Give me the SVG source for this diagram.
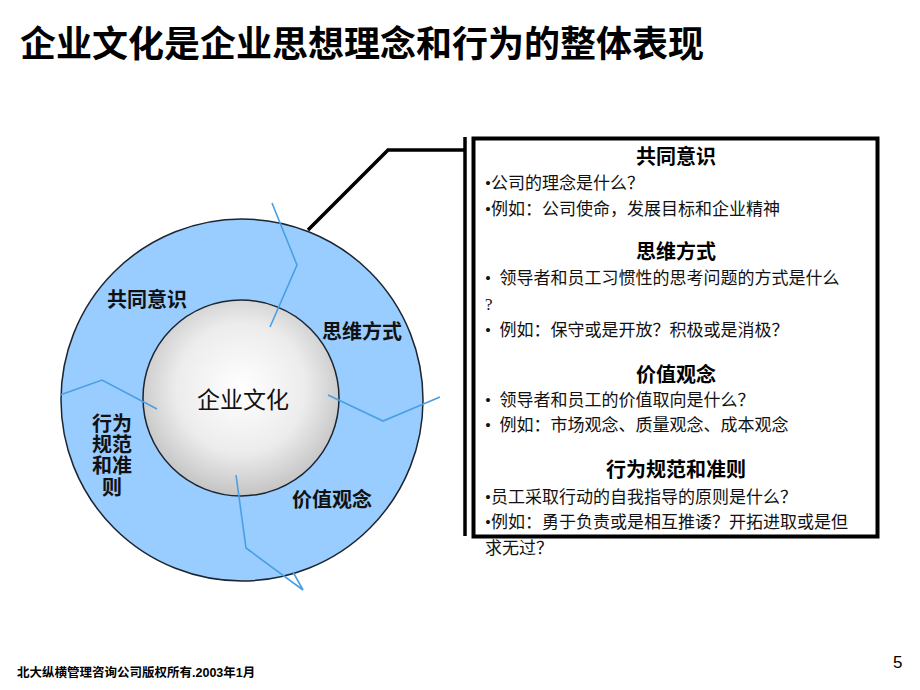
<svg xmlns="http://www.w3.org/2000/svg" width="920" height="690" viewBox="0 0 920 690">
<style>
.title{font-family:"Liberation Sans","Noto Sans CJK SC",sans-serif;font-size:36px;font-weight:bold;fill:#000}
.lbl{font-family:"Liberation Sans","Noto Sans CJK SC",sans-serif;font-size:20px;font-weight:bold;fill:#111}
.core{font-family:"Liberation Sans","Noto Sans CJK SC",sans-serif;font-size:23px;fill:#111}
.hd{font-family:"Liberation Sans","Noto Sans CJK SC",sans-serif;font-size:20px;font-weight:bold;fill:#000;text-anchor:middle}
.bd{font-family:"Liberation Serif","Noto Sans CJK SC",serif;font-size:17px;fill:#111}
.ft{font-family:"Liberation Sans","Noto Sans CJK SC",sans-serif;font-size:12.5px;font-weight:bold;fill:#000}
.pg{font-family:"Liberation Sans",sans-serif;font-size:17px;fill:#000}
.arw{fill:none;stroke:#4a9fe3;stroke-width:1.6;stroke-linejoin:miter}
.blk{fill:none;stroke:#000;stroke-width:3.5}
</style>
<defs>
<radialGradient id="g" cx="0.5" cy="0.45" r="0.55">
<stop offset="0" stop-color="#ffffff"/>
<stop offset="0.6" stop-color="#ececec"/>
<stop offset="1" stop-color="#c4c4c4"/>
</radialGradient>
</defs>
<rect width="920" height="690" fill="#fff"/>
<text class="title" x="20" y="57">企业文化是企业思想理念和行为的整体表现</text>

<g id="connectors">
<polyline class="blk" points="308,230 388,150 465,150"/>
<line x1="465" y1="137" x2="465" y2="536" stroke="#000" stroke-width="3.5"/>
</g>

<g id="ring">
<circle cx="242" cy="400" r="181" fill="#99ccff" stroke="#1c2530" stroke-width="1.5"/>
</g>
<g id="core">
<circle cx="241" cy="398" r="98" fill="url(#g)" stroke="#1c2530" stroke-width="1.5"/>
<text class="core" x="243" y="408" text-anchor="middle">企业文化</text>
</g>
<g id="arrows">
<polyline class="arw" points="272,203 297,265 270,327"/>
<polyline class="arw" points="328,395 383,421 440,397"/>
<polyline class="arw" points="236,475 246,548 303,590 293,572"/>
<polyline class="arw" points="60,395 102,380 157,409"/>
</g>
<g id="n-shared">
<text class="lbl" x="107" y="307">共同意识</text>
</g>
<g id="n-thinking">
<text class="lbl" x="322" y="339">思维方式</text>
</g>
<g id="n-values">
<text class="lbl" x="292" y="507">价值观念</text>
</g>
<g id="n-behavior">
<text class="lbl" text-anchor="middle" x="112" y="431">行为</text>
<text class="lbl" text-anchor="middle" x="112" y="452">规范</text>
<text class="lbl" text-anchor="middle" x="112" y="473">和准</text>
<text class="lbl" text-anchor="middle" x="112" y="495">则</text>
</g>

<g id="detail-box">
<rect x="473.5" y="138.5" width="404" height="398" fill="#fff" stroke="#000" stroke-width="4"/>
<text class="hd" x="676" y="164">共同意识</text>
<text class="bd" x="485" y="189">•公司的理念是什么？</text>
<text class="bd" x="485" y="215">•例如：公司使命，发展目标和企业精神</text>
<text class="hd" x="676" y="259">思维方式</text>
<text class="bd" x="485" y="284" xml:space="preserve">•  领导者和员工习惯性的思考问题的方式是什么</text>
<text class="bd" x="485" y="310">?</text>
<text class="bd" x="485" y="336" xml:space="preserve">•  例如：保守或是开放？积极或是消极？</text>
<text class="hd" x="676" y="382">价值观念</text>
<text class="bd" x="485" y="406" xml:space="preserve">•  领导者和员工的价值取向是什么？</text>
<text class="bd" x="485" y="431" xml:space="preserve">•  例如：市场观念、质量观念、成本观念</text>
<text class="hd" x="676" y="477">行为规范和准则</text>
<text class="bd" x="485" y="503">•员工采取行动的自我指导的原则是什么？</text>
<text class="bd" x="485" y="528">•例如：勇于负责或是相互推诿？开拓进取或是但</text>
<text class="bd" x="485" y="554">求无过？</text>
</g>

<text class="ft" x="17" y="677">北大纵横管理咨询公司版权所有.2003年1月</text>
<text class="pg" x="893" y="668">5</text>
</svg>
